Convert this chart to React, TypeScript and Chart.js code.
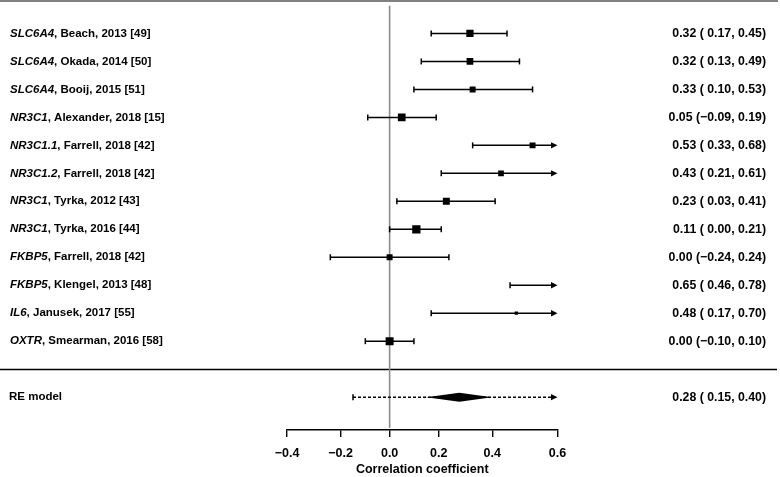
import React, { useEffect, useRef } from "react";
import { Chart, registerables } from "chart.js";

Chart.register(...registerables);

// ---------- data ----------
const genes = ["SLC6A4", "SLC6A4", "SLC6A4", "NR3C1", "NR3C1.1", "NR3C1.2", "NR3C1", "NR3C1", "FKBP5", "FKBP5", "IL6", "OXTR"];
const authors = ["Beach", "Okada", "Booij", "Alexander", "Farrell", "Farrell", "Tyrka", "Tyrka", "Farrell", "Klengel", "Janusek", "Smearman"];
const years = [2013, 2014, 2015, 2018, 2018, 2018, 2012, 2016, 2018, 2013, 2017, 2016];
const refs = [49, 50, 51, 15, 42, 42, 43, 44, 42, 48, 55, 58];
const estimates = [0.32, 0.32, 0.33, 0.05, 0.53, 0.43, 0.23, 0.11, 0.0, 0.65, 0.48, 0.0];
const lowers = [0.17, 0.13, 0.1, -0.09, 0.33, 0.21, 0.03, 0.0, -0.24, 0.46, 0.17, -0.1];
const uppers = [0.45, 0.49, 0.53, 0.19, 0.68, 0.61, 0.41, 0.21, 0.24, 0.78, 0.7, 0.1];
const weights = [10.1, 9.3, 8.3, 10.7, 8.3, 7.9, 9.7, 11.5, 8.3, 8.5, 4.6, 11.1];

const reLabel = "RE model";
const reEstimate = 0.28;
const reLower = 0.15;
const reUpper = 0.4;
const predLower = -0.15;
const predUpper = 0.63;

const tickValues = [-0.4, -0.2, 0.0, 0.2, 0.4, 0.6];
const axisTitle = "Correlation coefficient";

// ---------- helpers ----------
const FONT = '"Liberation Sans", Arial, sans-serif';
const z = (r: number) => Math.atanh(r);
const zMin = z(tickValues[0]);
const zMax = z(tickValues[tickValues.length - 1]);
const fmt2 = (v: number) => (v < 0 ? "\u2212" + Math.abs(v).toFixed(2) : v.toFixed(2));
const fmt1 = (v: number) => {
  const r = Math.round(v * 10) / 10;
  return r < 0 ? "\u2212" + Math.abs(r).toFixed(1) : Math.abs(r).toFixed(1);
};
const annot = (e: number, lo: number, hi: number) =>
  `${fmt2(e)} (${lo < 0 ? "" : " "}${fmt2(lo)}, ${fmt2(hi)})`;

const nStudies = estimates.length;
const rows = estimates.map((_, i) => i + 1);
const sepRow = nStudies + 1;
const reRow = nStudies + 2;
const yMin = 0.0127;
const yMax = 15.175;

const forestPlugin = {
  id: "forest",
  beforeDatasetsDraw(chart: any) {
    const { ctx, scales, chartArea, width } = chart;
    const xs = scales.x;
    const ys = scales.y;
    ctx.save();
    // top line
    ctx.strokeStyle = "#808080";
    ctx.lineWidth = 2;
    ctx.beginPath();
    ctx.moveTo(0, 1);
    ctx.lineTo(width - 2, 1);
    ctx.stroke();
    // separator
    const sy = Math.round(ys.getPixelForValue(sepRow)) + 0.5;
    ctx.strokeStyle = "#000";
    ctx.lineWidth = 1.6;
    ctx.beginPath();
    ctx.moveTo(0, sy);
    ctx.lineTo(width - 3, sy);
    ctx.stroke();
    // reference line at 0
    const x0 = xs.getPixelForValue(0);
    ctx.strokeStyle = "#8c8c8c";
    ctx.lineWidth = 1.6;
    ctx.beginPath();
    ctx.moveTo(x0, chartArea.top);
    ctx.lineTo(x0, chartArea.bottom - 2);
    ctx.stroke();

    const cap = 3;
    const drawInterval = (lo: number, hi: number, y: number, dashed: boolean) => {
      const zl = z(lo);
      const zh = z(hi);
      const cl = Math.max(zl, zMin);
      const ch = Math.min(zh, zMax);
      const pl = xs.getPixelForValue(cl);
      const ph = xs.getPixelForValue(ch);
      ctx.strokeStyle = "#000";
      ctx.fillStyle = "#000";
      ctx.lineWidth = 1.5;
      ctx.setLineDash(dashed ? [3, 2] : []);
      ctx.beginPath();
      ctx.moveTo(pl, y);
      ctx.lineTo(zh > zMax ? ph - 5 : ph, y);
      ctx.stroke();
      ctx.setLineDash([]);
      if (zl < zMin) {
        ctx.beginPath();
        ctx.moveTo(pl, y);
        ctx.lineTo(pl + 6, y - 3);
        ctx.lineTo(pl + 6, y + 3);
        ctx.closePath();
        ctx.fill();
      } else {
        ctx.beginPath();
        ctx.moveTo(pl, y - cap);
        ctx.lineTo(pl, y + cap);
        ctx.stroke();
      }
      if (zh > zMax) {
        ctx.beginPath();
        ctx.moveTo(ph, y);
        ctx.lineTo(ph - 6.5, y - 3.2);
        ctx.lineTo(ph - 6.5, y + 3.2);
        ctx.closePath();
        ctx.fill();
      } else {
        ctx.beginPath();
        ctx.moveTo(ph, y - cap);
        ctx.lineTo(ph, y + cap);
        ctx.stroke();
      }
    };

    rows.forEach((r, i) => {
      const y = ys.getPixelForValue(r);
      drawInterval(lowers[i], uppers[i], y, false);
    });

    const ry = ys.getPixelForValue(reRow);
    drawInterval(predLower, predUpper, ry, true);
    const dl = xs.getPixelForValue(z(reLower));
    const dh = xs.getPixelForValue(z(reUpper));
    const dc = xs.getPixelForValue(z(reEstimate));
    ctx.fillStyle = "#000";
    ctx.beginPath();
    ctx.moveTo(dl, ry);
    ctx.lineTo(dc, ry - 4.5);
    ctx.lineTo(dh, ry);
    ctx.lineTo(dc, ry + 4.5);
    ctx.closePath();
    ctx.fill();
    ctx.restore();
  },
  afterDraw(chart: any) {
    const { ctx, scales } = chart;
    const ys = scales.y;
    ctx.save();
    ctx.fillStyle = "#000";
    ctx.textBaseline = "middle";
    const size = 11.5;
    const rsize = 12.3;
    rows.forEach((r, i) => {
      const y = ys.getPixelForValue(r);
      ctx.textAlign = "left";
      ctx.font = `italic bold ${size}px ${FONT}`;
      ctx.fillText(genes[i], 10, y);
      const w = ctx.measureText(genes[i]).width;
      ctx.font = `bold ${size}px ${FONT}`;
      ctx.fillText(`, ${authors[i]}, ${years[i]} [${refs[i]}]`, 10 + w, y);
      ctx.textAlign = "right";
      ctx.font = `bold ${rsize}px ${FONT}`;
      ctx.fillText(annot(estimates[i], lowers[i], uppers[i]), 766, y);
    });
    const ry = ys.getPixelForValue(reRow);
    ctx.font = `bold ${size}px ${FONT}`;
    ctx.textAlign = "left";
    ctx.fillText(reLabel, 9, ry);
    ctx.textAlign = "right";
    ctx.font = `bold ${rsize}px ${FONT}`;
    ctx.fillText(annot(reEstimate, reLower, reUpper), 766, ry);
    ctx.restore();
  },
};

export default function App() {
  const ref = useRef<HTMLCanvasElement | null>(null);
  useEffect(() => {
    document.body.style.margin = "0";
    const canvas = ref.current;
    if (!canvas) return;
    const chart = new Chart(canvas, {
      type: "scatter",
      data: {
        datasets: [
          {
            data: rows.map((r, i) => ({ x: z(estimates[i]), y: r })),
            pointStyle: "rect",
            pointRadius: weights.map((w) => (w * 0.72) / Math.SQRT2),
            pointBackgroundColor: "#000",
            pointBorderWidth: 0,
            pointHoverRadius: weights.map((w) => (w * 0.72) / Math.SQRT2),
            clip: 0,
          } as any,
        ],
      },
      options: {
        responsive: false,
        animation: false,
        devicePixelRatio: 1,
        events: [],
        layout: { padding: { left: 287, right: 222.5, top: 0, bottom: 0 } },
        plugins: { legend: { display: false }, tooltip: { enabled: false } },
        scales: {
          x: {
            type: "linear",
            min: zMin,
            max: zMax,
            afterBuildTicks: (scale: any) => {
              scale.ticks = tickValues.map((v) => ({ value: z(v) }));
            },
            afterFit: (scale: any) => {
              scale.height = 47;
            },
            ticks: {
              callback: (v: any) => fmt1(Math.tanh(Number(v))),
              color: "#000",
              font: { family: FONT, size: 12.5, weight: "bold" },
              padding: 9,
              maxRotation: 0,
              autoSkip: false,
            },
            grid: {
              drawOnChartArea: false,
              drawTicks: true,
              tickLength: 7,
              color: "#000",
              lineWidth: 1.4,
            },
            border: { display: true, color: "#000", width: 1.4 },
            title: {
              display: true,
              text: axisTitle,
              color: "#000",
              font: { family: FONT, size: 12.5, weight: "bold" },
              padding: { top: 2, bottom: 0 },
            },
          },
          y: {
            type: "linear",
            display: false,
            reverse: true,
            min: yMin,
            max: yMax,
          },
        },
      } as any,
      plugins: [forestPlugin],
    });
    return () => chart.destroy();
  }, []);
  return (
    <div style={{ width: 780, height: 477, background: "#fff" }}>
      <canvas ref={ref} width={780} height={477} style={{ display: "block" }} />
    </div>
  );
}
